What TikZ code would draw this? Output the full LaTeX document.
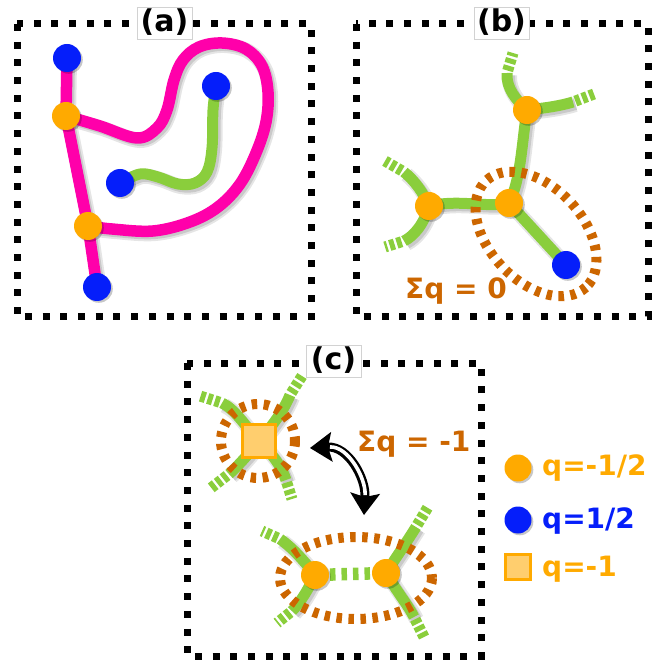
\documentclass[tikz,border=0pt]{standalone}
\usepackage{fontspec}
\setmainfont{DejaVu Sans}
\usetikzlibrary{arrows.meta}
\definecolor{gcol}{RGB}{138,206,60}
\definecolor{mcol}{RGB}{255,0,170}
\definecolor{ocol}{RGB}{255,170,0}
\definecolor{bcol}{RGB}{5,30,250}
\definecolor{brn}{RGB}{204,102,0}
\definecolor{sqfill}{RGB}{255,206,110}
\pgfdeclarelayer{back}
\pgfdeclarelayer{mid}
\pgfsetlayers{back,mid,main}
\begin{document}
\begin{tikzpicture}[x=1pt,y=-1pt,
  font=\fontsize{28}{30}\selectfont\bfseries,
  lshadow/.style={preaction={draw=black, draw opacity=.10, line width=15pt, transform canvas={shift={(2.5,2.5)}}},
                  preaction={draw=black, draw opacity=.12, line width=11pt, transform canvas={shift={(2.5,2.5)}}}},
  dshadow/.style={preaction={fill=black, fill opacity=.22, transform canvas={shift={(1.8,1.8)}}}},
  frame/.style={draw=black, line width=7pt, dash pattern=on 7pt off 10.7pt},
  lbl/.style={draw=gray!35, fill=white, line width=0.8pt, inner sep=0pt, minimum width=55pt, minimum height=32pt,
              text height=22pt, text depth=4pt, font=\fontsize{30}{30}\selectfont\bfseries},
  ml/.style={draw=mcol, line width=11.5pt, line join=round, lshadow},
  gl/.style={draw=gcol, line width=11pt, lshadow},
  gend/.style={draw=gcol, line width=11pt, dash pattern=on 5pt off 2.5pt, dash phase=5pt},
  odot/.style={circle, fill=ocol, minimum size=28pt, inner sep=0pt, dshadow},
  bdot/.style={circle, fill=bcol, minimum size=28pt, inner sep=0pt, dshadow},
  sqnode/.style={draw=ocol, fill=sqfill, line width=3pt, minimum size=33pt, inner sep=0pt, dshadow},
  brl/.style={draw=brn, line width=10pt, dash pattern=on 5.5pt off 6.5pt},
  arrblack/.style={draw=black, line width=9pt,
              {Stealth[length=22pt,width=30pt,inset=4pt,line width=0pt]}-{Stealth[length=22pt,width=30pt,inset=4pt,line width=0pt]}},
  arrwhite/.style={draw=white, line width=3.6pt, shorten <=20pt, shorten >=20pt},
  txt/.style={anchor=base west, inner sep=0pt}
]
\useasboundingbox (0,0) rectangle (664,660);

% frames
\draw[frame] (17,24) rectangle (311,317);
\draw[frame] (356,24) rectangle (648,317);
\draw[frame] (187,363) rectangle (481,656);
\node[lbl] (la) at (164.5,23) {(a)};
\node[lbl] (lb) at (501.5,23) {(b)};
\node[lbl] (lc) at (333.5,361) {(c)};

% ---------------- panel (a)
\node[bdot] (ab1) at (67,58) {};
\node[odot] (ao1) at (66,116) {};
\node[bdot] (ab2) at (216,86) {};
\node[bdot] (ab3) at (120,183) {};
\node[odot] (ao2) at (88,226) {};
\node[bdot] (ab4) at (97,287) {};
\begin{pgfonlayer}{back}
\draw[ml] (ab1.center) -- (ao1.center) -- (ao2.center) -- (ab4.center);
\draw[ml] plot[smooth, tension=.6] coordinates {(ao1.center) (100,126) (137,138) (157,128) (167,110) (174,80) (183,60) (199,47) (222,43) (246,49) (262,66) (268,92) (266,122) (256,153) (240,184) (218,207) (190,222) (153,231) (112,229) (ao2.center)};
\draw[gl] plot[smooth, tension=.6] coordinates {(ab2.center) (213,110) (212,148) (207,172) (195,183) (178,184) (158,177) (140,174) (ab3.center)};
\end{pgfonlayer}

% ---------------- panel (b)
\node[odot] (bT) at (527,110) {};
\node[odot] (bL) at (429,206) {};
\node[odot] (bM) at (509,203) {};
\node[bdot] (bB) at (566,265) {};
\coordinate (bTu1) at (507,73);
\coordinate (bTu2) at (513,53);
\coordinate (bTr1) at (573,102);
\coordinate (bTr2) at (594,94);
\coordinate (bLu1) at (404,172);
\coordinate (bLu2) at (385,161);
\coordinate (bLd1) at (404,241);
\coordinate (bLd2) at (385,247);
\begin{pgfonlayer}{back}
\draw[gl] (bT.center) .. controls (516,100) and (506,88) .. (bTu1);
\draw[gend] (bTu1) -- (bTu2);
\draw[gl] (bT.center) .. controls (545,108) and (560,106) .. (bTr1);
\draw[gend] (bTr1) -- (bTr2);
\draw[gl] (bT.center) .. controls (522,140) and (521,180) .. (bM.center);
\draw[gl] (bM.center) .. controls (485,208) and (460,199) .. (bL.center);
\draw[gl] (bL.center) .. controls (423,192) and (414,180) .. (bLu1);
\draw[gend] (bLu1) -- (bLu2);
\draw[gl] (bL.center) .. controls (424,224) and (414,236) .. (bLd1);
\draw[gend] (bLd1) -- (bLd2);
\draw[gl] (bM.center) -- (bB.center);
\end{pgfonlayer}
\begin{pgfonlayer}{mid}
\draw[brl, rotate around={-47:(536,234)}] (536,234) ellipse [x radius=73, y radius=47];
\end{pgfonlayer}
\node[txt, text=brn] (sumb) at (405,299) {Σq = 0};

% ---------------- panel (c)
\node[sqnode] (cS) at (259,441) {};
\coordinate (cUL1) at (222,403);
\coordinate (cUL2) at (200,396);
\coordinate (cLL1) at (229,474);
\coordinate (cLL2) at (211,488);
\coordinate (cUR1) at (290,395);
\coordinate (cUR2) at (302,376);
\coordinate (cLR1) at (286,480);
\coordinate (cLR2) at (292,499);
\node[odot] (cA) at (315,575) {};
\node[odot] (cB) at (386,573) {};
\coordinate (cAu1) at (280,539);
\coordinate (cAu2) at (262,531);
\coordinate (cAd1) at (292,611);
\coordinate (cAd2) at (277,623);
\coordinate (cBu1) at (416,527);
\coordinate (cBu2) at (428,507);
\coordinate (cBd1) at (414,617);
\coordinate (cBd2) at (424,637);
\begin{pgfonlayer}{back}
\draw[gl] (cS.center) .. controls (245,426) and (235,409) .. (cUL1);
\draw[gend] (cUL1) -- (cUL2);
\draw[gl] (cS.center) .. controls (247,456) and (237,467) .. (cLL1);
\draw[gend] (cLL1) -- (cLL2);
\draw[gl] (cS.center) .. controls (273,425) and (284,410) .. (cUR1);
\draw[gend] (cUR1) -- (cUR2);
\draw[gl] (cS.center) .. controls (273,455) and (282,467) .. (cLR1);
\draw[gend] (cLR1) -- (cLR2);
\draw[draw=gcol, line width=12.5pt, dash pattern=on 5.5pt off 6pt, dash phase=8pt] (cA.center) -- (cB.center);
\draw[gl] (cA.center) .. controls (305,562) and (293,548) .. (cAu1);
\draw[gend] (cAu1) -- (cAu2);
\draw[gl] (cA.center) .. controls (308,590) and (300,603) .. (cAd1);
\draw[gend] (cAd1) -- (cAd2);
\draw[gl] (cB.center) .. controls (397,556) and (408,540) .. (cBu1);
\draw[gend] (cBu1) -- (cBu2);
\draw[gl] (cB.center) .. controls (397,592) and (408,605) .. (cBd1);
\draw[gend] (cBd1) -- (cBd2);
\end{pgfonlayer}
\begin{pgfonlayer}{mid}
\draw[brl] (258,441) circle [radius=37];
\draw[brl] (356,578) ellipse [x radius=76, y radius=41];
\end{pgfonlayer}
\coordinate (arrL) at (310,448);
\coordinate (arrR) at (364,515);
\draw[arrblack] (arrL) .. controls (348,446) and (366,478) .. (arrR);
\draw[arrwhite] (arrL) .. controls (348,446) and (366,478) .. (arrR);
\node[txt, text=brn] (sumc) at (357,451) {Σq = -1};

% ---------------- legend
\node[odot, minimum size=27pt] (lg1) at (518,468) {};
\node[bdot, minimum size=27pt] (lg2) at (518,520) {};
\node[sqnode, minimum size=25pt] (lg3) at (518,567) {};
\node[txt, text=ocol] (lt1) at (542,475) {q=-1/2};
\node[txt, text=bcol] (lt2) at (542,528) {q=1/2};
\node[txt, text=ocol] (lt3) at (542,576) {q=-1};
\end{tikzpicture}
\end{document}
